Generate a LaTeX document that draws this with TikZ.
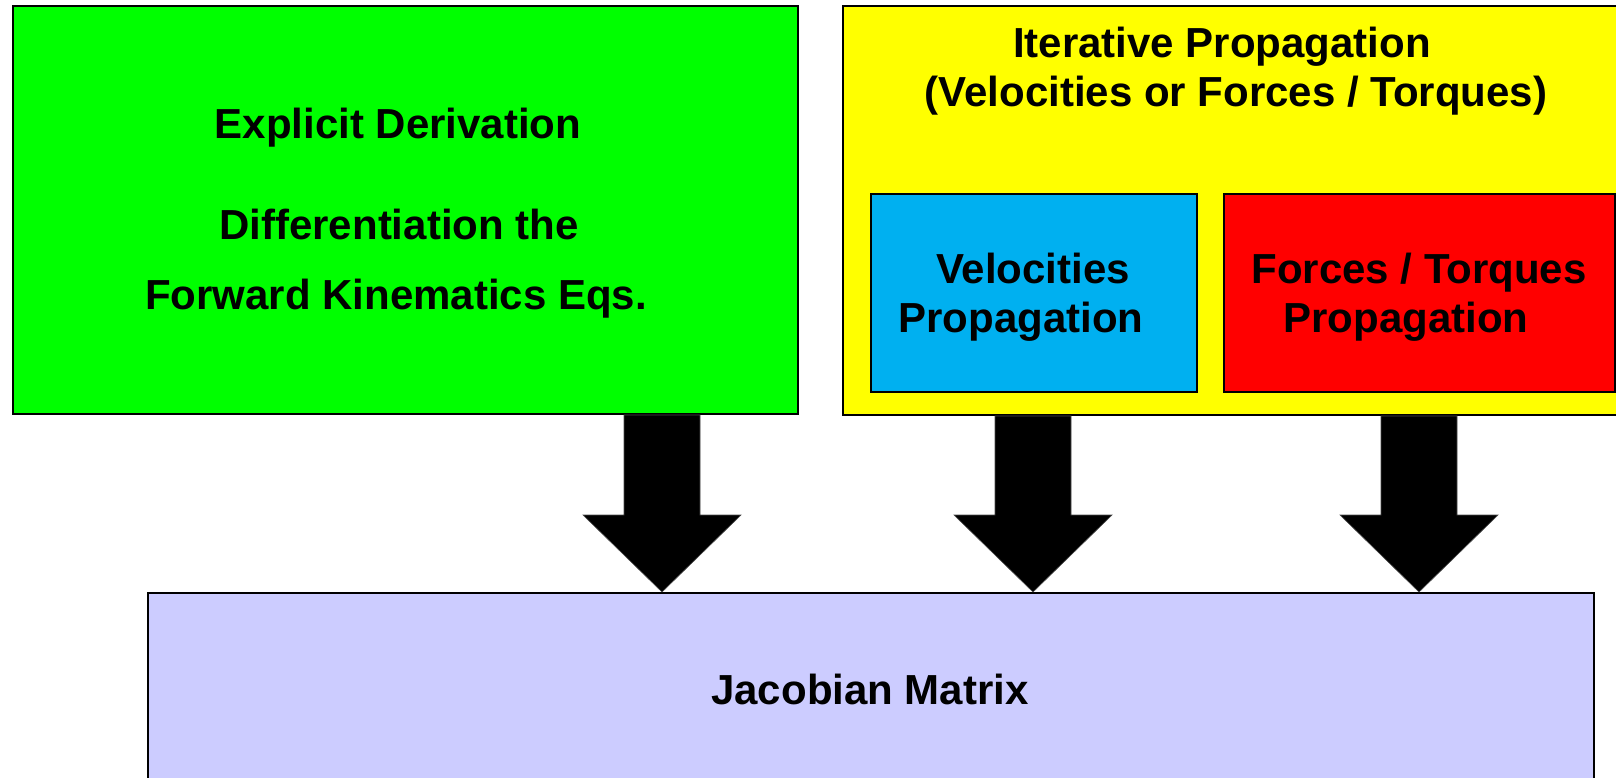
\documentclass[tikz,border=0pt]{standalone}
\usepackage{fontspec}
\setmainfont{Liberation Sans}
\usetikzlibrary{calc}

\definecolor{boxgreen}{HTML}{00FF00}
\definecolor{boxyellow}{HTML}{FFFF00}
\definecolor{boxblue}{HTML}{00B0F0}
\definecolor{boxred}{HTML}{FF0000}
\definecolor{boxlav}{HTML}{CCCCFF}

\tikzset{
  panel/.style={draw=black, line width=2pt, rectangle, inner sep=0pt, anchor=north west},
  lbl/.style={anchor=base, inner sep=0pt, font=\fontsize{42}{50}\selectfont\bfseries},
  arrowfill/.style={fill=black, draw=black!70, line width=0.6pt},
}

% block arrow: #1 = top of shaft, #2 = tip
\newcommand\fatarrow[2]{%
  \filldraw[arrowfill] let \p1=(#1), \p2=(#2) in
    (\x1-38pt,\y1) -- (\x1+38pt,\y1) -- (\x1+38pt,\y2+77pt) -- (\x1+79pt,\y2+77pt)
    -- (\x2,\y2) -- (\x1-79pt,\y2+77pt) -- (\x1-38pt,\y2+77pt) -- cycle;}

\begin{document}
\begin{tikzpicture}[x=1pt,y=-1pt]
  \useasboundingbox (0,0) rectangle (1616,777);

  % boxes
  \node[panel, fill=boxgreen, minimum width=785pt, minimum height=408pt] (expl) at (12,5) {};
  \node[panel, fill=boxyellow, minimum width=790pt, minimum height=409pt] (iter) at (842,5) {};
  \node[panel, fill=boxblue, minimum width=326pt, minimum height=198pt] (vel) at (870,193) {};
  \node[panel, fill=boxred, minimum width=391pt, minimum height=198pt] (frc) at (1223,193) {};
  \node[panel, fill=boxlav, minimum width=1446pt, minimum height=200pt] (jac) at (147,592) {};

  % texts
  \node[lbl] (t1) at (398,138) {Explicit Derivation};
  \node[lbl] (t2) at (399,239) {Differentiation the};
  \node[lbl] (t3) at (396,309) {Forward Kinematics Eqs.};
  \node[lbl] (t4) at (1222,57) {Iterative Propagation};
  \node[lbl] (t5) at (1236,106) {(Velocities or Forces / Torques)};
  \node[lbl] (t6) at (1033,283) {Velocities};
  \node[lbl] (t7) at (1021,332) {Propagation};
  \node[lbl] (t8) at (1419,283) {Forces / Torques};
  \node[lbl] (t9) at (1406,332) {Propagation};
  \node[lbl] (t10) at (870,704) {Jacobian Matrix};

  % arrow columns
  \coordinate (c1) at (662,0);
  \coordinate (c2) at (1033,0);
  \coordinate (c3) at (1419,0);

  \fatarrow{expl.south -| c1}{jac.north -| c1}
  \fatarrow{iter.south -| c2}{jac.north -| c2}
  \fatarrow{iter.south -| c3}{jac.north -| c3}
\end{tikzpicture}
\end{document}
